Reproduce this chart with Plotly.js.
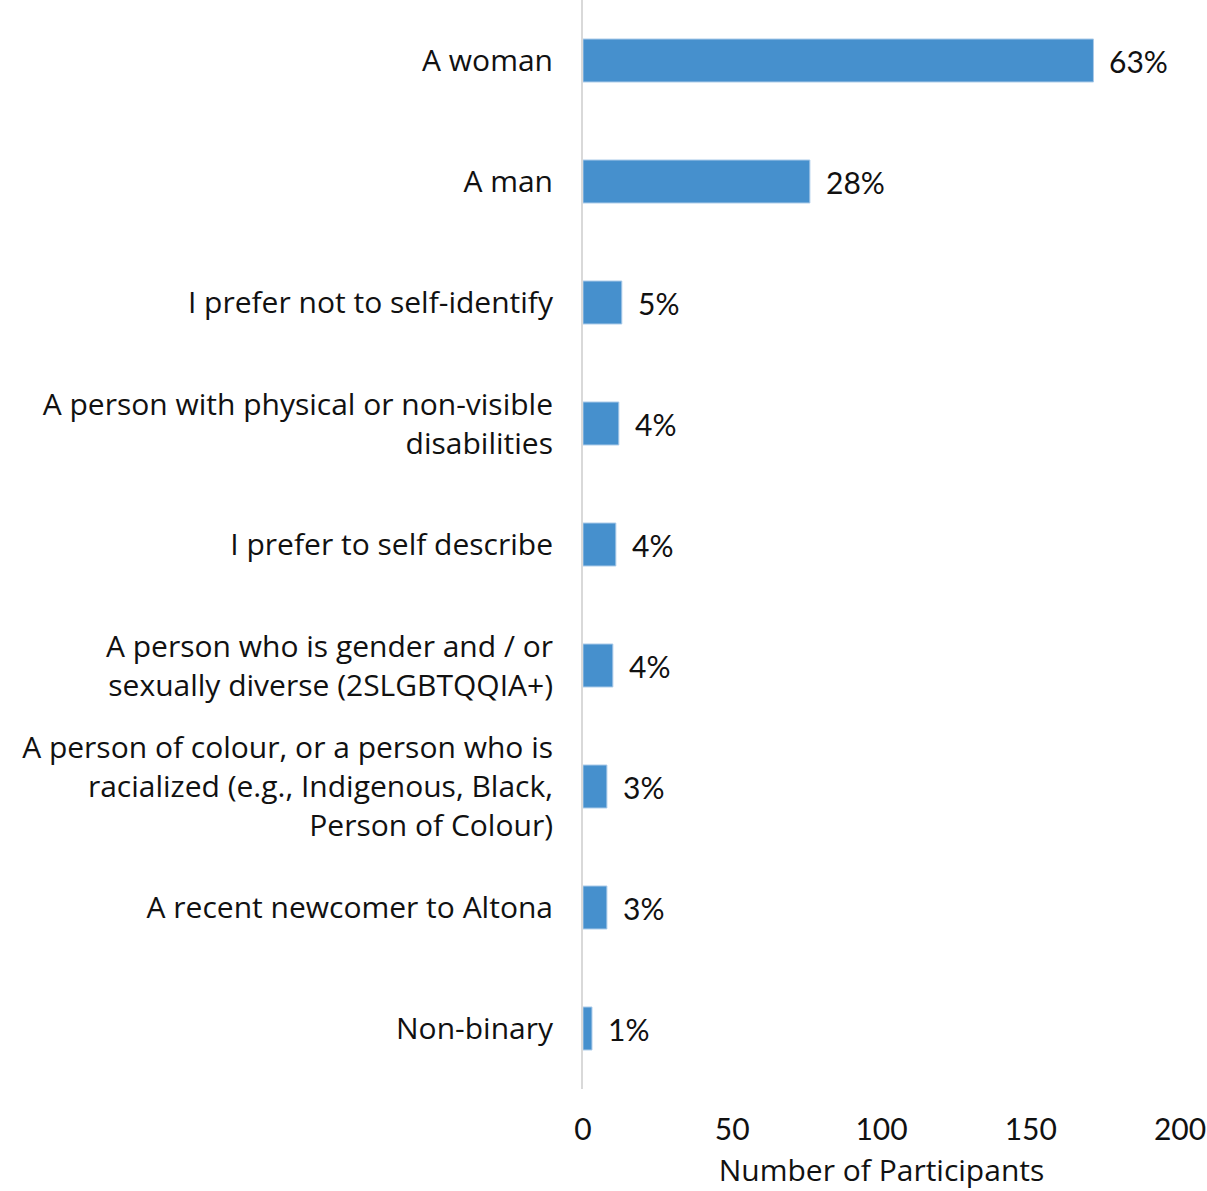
<!DOCTYPE html>
<html>
<head>
<meta charset="utf-8">
<script src="https://cdn.plot.ly/plotly-3.0.1.min.js"></script>
<style>html,body{margin:0;padding:0;background:#fff;}#chart{width:1207px;height:1191px;}</style>
</head>
<body>
<div id="chart"></div>
<script>
const categories = [
  "A woman",
  "A man",
  "I prefer not to self-identify",
  "A person with physical or non-visible<br>disabilities",
  "I prefer to self describe",
  "A person who is gender and / or<br>sexually diverse (2SLGBTQQIA+)",
  "A person of colour, or a person who is<br>racialized (e.g., Indigenous, Black,<br>Person of Colour)",
  "A recent newcomer to Altona",
  "Non-binary"
];
const counts = [171, 76, 13, 12, 11, 10, 8, 8, 3];
const percentLabels = ["63%", "28%", "5%", "4%", "4%", "4%", "3%", "3%", "1%"];
const xTicks = [0, 50, 100, 150, 200];

const fontFamily = "'Open Sans', Lato, sans-serif";
const numFamily = "Lato, 'Open Sans', sans-serif";

const trace = {
  type: 'bar',
  orientation: 'h',
  x: counts,
  y: categories,
  marker: {color: '#4690cd', line: {color: '#a8c9e8', width: 1}},
  hoverinfo: 'skip'
};

const annotations = counts.map((v, i) => ({
  x: v, y: categories[i], xref: 'x', yref: 'y',
  text: percentLabels[i], showarrow: false,
  xanchor: 'left', yanchor: 'middle', xshift: 14,
  font: {family: numFamily, size: 30, color: '#111'}
}));

const layout = {
  width: 1207, height: 1191,
  margin: {l: 583, r: 27, t: 0, b: 102},
  paper_bgcolor: '#fff', plot_bgcolor: '#fff',
  showlegend: false,
  bargap: 0.645,
  font: {family: fontFamily, size: 30, color: '#111'},
  xaxis: {
    range: [0, 200],
    tickvals: xTicks,
    ticktext: xTicks.map(String),
    showgrid: false, zeroline: false, showline: false,
    ticks: '', ticklabelstandoff: 20,
    tickfont: {family: numFamily, size: 30, color: '#111'},
    title: {text: 'Number of Participants', standoff: 14, font: {family: fontFamily, size: 30, color: '#111'}}
  },
  yaxis: {
    autorange: 'reversed',
    showgrid: false, zeroline: false,
    showline: true, linecolor: '#d9d9d9', linewidth: 2,
    ticks: '', ticklabelstandoff: 22,
    tickfont: {family: fontFamily, size: 30, color: '#111'}
  },
  annotations: annotations
};

Plotly.newPlot('chart', [trace], layout, {displayModeBar: false, staticPlot: true});
</script>
</body>
</html>
